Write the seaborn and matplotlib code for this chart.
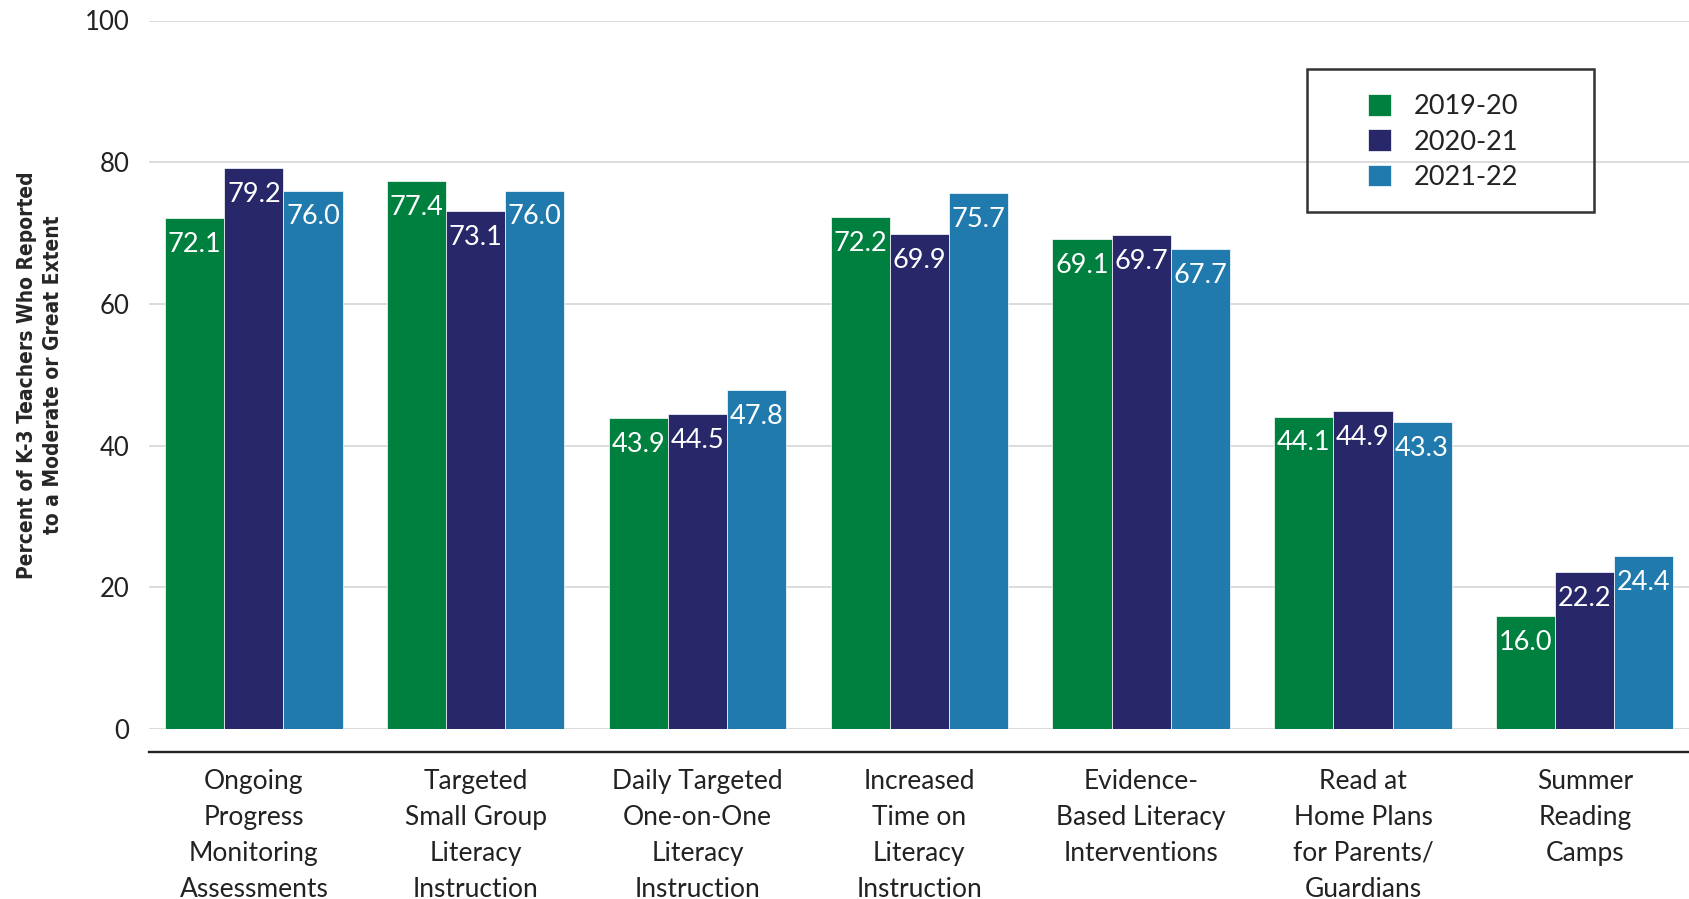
import pandas as pd
import matplotlib.pyplot as plt
import seaborn as sns
from matplotlib.patches import Rectangle

categories = [
    "Ongoing\nProgress\nMonitoring\nAssessments",
    "Targeted\nSmall Group\nLiteracy\nInstruction",
    "Daily Targeted\nOne-on-One\nLiteracy\nInstruction",
    "Increased\nTime on\nLiteracy\nInstruction",
    "Evidence-\nBased Literacy\nInterventions",
    "Read at\nHome Plans\nfor Parents/\nGuardians",
    "Summer\nReading\nCamps",
]
years = ["2019-20", "2020-21", "2021-22"]
vals_1920 = [72.1, 77.4, 43.9, 72.2, 69.1, 44.1, 16.0]
vals_2021 = [79.2, 73.1, 44.5, 69.9, 69.7, 44.9, 22.2]
vals_2122 = [76.0, 76.0, 47.8, 75.7, 67.7, 43.3, 24.4]
colors = ["#00803f", "#27276a", "#217aad"]
y_ticks = [0, 20, 40, 60, 80, 100]

df = pd.DataFrame({
    "category": categories * 3,
    "year": [years[0]] * 7 + [years[1]] * 7 + [years[2]] * 7,
    "value": vals_1920 + vals_2021 + vals_2122,
})

sns.set_style("white")
plt.rcParams["font.family"] = ["Lato", "DejaVu Sans"]
plt.rcParams["text.color"] = "#222222"

fig = plt.figure(figsize=(16.89, 8.99), dpi=100)
ax = fig.add_axes([149 / 1689, 1 - 729 / 899, 1 - 149 / 1689, (729 - 20.5) / 899])

sns.barplot(data=df, x="category", y="value", hue="year", order=categories,
            hue_order=years, palette=dict(zip(years, colors)), errorbar=None,
            width=0.8, edgecolor="white", linewidth=0.5, saturation=1, ax=ax)

for cont in ax.containers:
    labels = ax.bar_label(cont, fmt="%.1f", padding=-19, color="white", fontsize=19.5)
    for t in labels:
        t.set_va("center")

ax.set_ylim(0, 100)
ax.set_xlim(-0.473, 6.47)
ax.set_yticks(y_ticks)
ax.yaxis.grid(True, color="#d9d9d9", linewidth=1.3)
ax.set_axisbelow(True)
for s in ["left", "top", "right"]:
    ax.spines[s].set_visible(False)
ax.spines["bottom"].set_color("#222222")
ax.spines["bottom"].set_linewidth(1.7)
ax.spines["bottom"].set_position(("outward", 16.5))
ax.tick_params(axis="both", length=0, colors="#222222")
ax.tick_params(axis="y", labelsize=18.5, pad=14)
ax.tick_params(axis="x", labelsize=19, pad=12)
for t in ax.get_xticklabels():
    t.set_linespacing(1.55)

ax.set_xlabel("")
ax.set_ylabel("Percent of K-3 Teachers Who Reported\nto a Moderate or Great Extent",
              fontsize=15, fontweight="bold", fontstretch="condensed", linespacing=1.35,
              family=["DejaVu Sans"])
ax.yaxis.set_label_coords((40 - 149) / 1540, 0.5)
ax.yaxis.label.set_va("center")

ax.legend(loc="center left", bbox_to_anchor=(1368 / 1689, 1 - 142 / 899),
          bbox_transform=fig.transFigure, frameon=False, fontsize=19.5,
          borderpad=0, borderaxespad=0, handlelength=0.85, handleheight=0.85,
          handletextpad=0.85, labelspacing=0.38, title=None)
fig.patches.append(Rectangle((1307 / 1689, 1 - 212 / 899), 287 / 1689, 143 / 899,
                             transform=fig.transFigure, fill=False,
                             edgecolor="#333333", linewidth=1.8))

fig.savefig("out.png", dpi=100)
